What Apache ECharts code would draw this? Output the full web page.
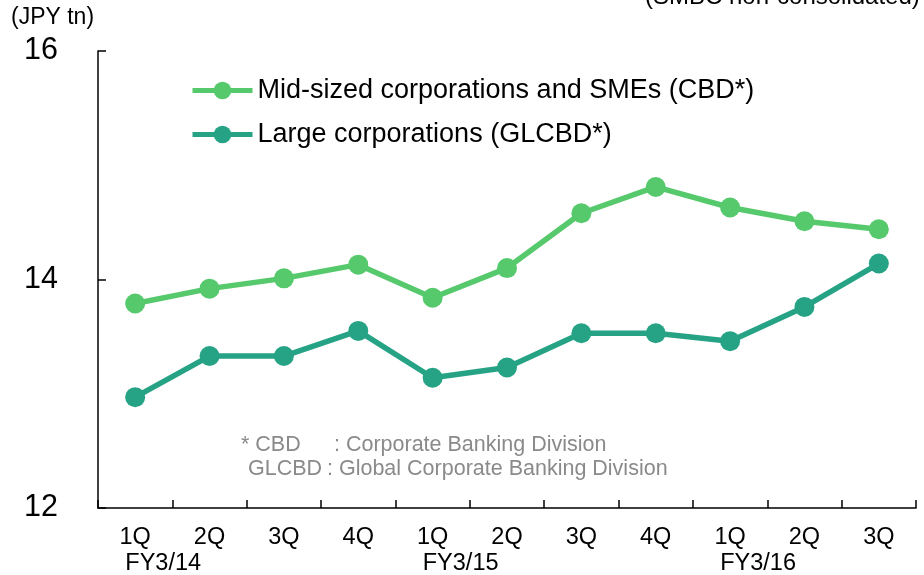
<!DOCTYPE html>
<html>
<head>
<meta charset="utf-8">
<script src="https://cdn.jsdelivr.net/npm/echarts@6/dist/echarts.min.js"></script>
<style>
html,body{margin:0;padding:0;background:#fff;}
#chart{width:924px;height:575px;}
</style>
</head>
<body>
<div id="chart"></div>
<script>
var quarters = ['1Q','2Q','3Q','4Q','1Q','2Q','3Q','4Q','1Q','2Q','3Q'];
var fiscalYears = ['FY3/14','','','','FY3/15','','','','FY3/16','',''];
var cbdValues = [13.79, 13.92, 14.01, 14.13, 13.84, 14.10, 14.58, 14.81, 14.63, 14.51, 14.44];
var glcbdValues = [12.97, 13.33, 13.33, 13.55, 13.14, 13.23, 13.53, 13.53, 13.46, 13.76, 14.14];
var seriesNames = ['Mid-sized corporations and SMEs (CBD*)', 'Large corporations (GLCBD*)'];
var yTicks = {min: 12, max: 16, interval: 2};

var FONT = 'Arial, "Liberation Sans", sans-serif';
var GREEN = '#56c96c';
var TEAL = '#26a385';
var GREY = '#8a8a8a';

var chart = echarts.init(document.getElementById('chart'), null, {renderer: 'canvas'});
chart.setOption({
  backgroundColor: '#ffffff',
  animation: false,
  textStyle: {fontFamily: FONT},
  grid: {left: 98, right: 8, top: 51, bottom: 67, containLabel: false, outerBoundsMode: 'none'},
  legend: {
    orient: 'vertical',
    left: 185,
    top: 72,
    itemWidth: 60,
    itemHeight: 22,
    itemGap: 17,
    data: seriesNames,
    lineStyle: {width: 5},
    textStyle: {fontSize: 27, color: '#000', fontFamily: FONT}
  },
  xAxis: {
    type: 'category',
    data: quarters,
    boundaryGap: true,
    axisLine: {show: true, lineStyle: {color: '#000', width: 1.5}},
    axisTick: {show: true, inside: true, length: 8, lineStyle: {color: '#000', width: 1.5}},
    axisLabel: {
      interval: 0,
      margin: 17,
      formatter: function (value, index) {
        var fy = fiscalYears[index];
        return fy ? '{q|' + value + '}\n{fy|' + fy + '}' : '{q|' + value + '}';
      },
      rich: {
        q: {fontSize: 23.5, color: '#000', fontFamily: FONT, lineHeight: 26},
        fy: {fontSize: 23.5, color: '#000', fontFamily: FONT, lineHeight: 26, padding: [0, 0, 0, 56]}
      }
    },
    splitLine: {show: false}
  },
  yAxis: {
    type: 'value',
    min: yTicks.min,
    max: yTicks.max,
    interval: yTicks.interval,
    axisLine: {show: true, lineStyle: {color: '#000', width: 1.5}},
    axisTick: {show: true, inside: true, length: 8, lineStyle: {color: '#000', width: 1.5}},
    axisLabel: {fontSize: 30.5, color: '#000', margin: 40, fontFamily: FONT},
    splitLine: {show: false}
  },
  series: [
    {
      name: seriesNames[0],
      type: 'line',
      data: cbdValues,
      symbol: 'circle',
      symbolSize: 20,
      lineStyle: {color: GREEN, width: 5.5},
      itemStyle: {color: GREEN},
      z: 3
    },
    {
      name: seriesNames[1],
      type: 'line',
      data: glcbdValues,
      symbol: 'circle',
      symbolSize: 20,
      lineStyle: {color: TEAL, width: 5.5},
      itemStyle: {color: TEAL},
      z: 4
    }
  ],
  graphic: [
    {type: 'text', x: 11, y: 18, style: {text: '(JPY tn)', fill: '#000', font: '23px ' + FONT, verticalAlign: 'middle'}},
    {type: 'text', x: 645, y: -3, style: {text: '(SMBC non-consolidated)', fill: '#000', font: '24px ' + FONT, verticalAlign: 'middle'}},
    {type: 'text', x: 241, y: 445, style: {text: '* CBD', fill: GREY, font: '21.5px ' + FONT, verticalAlign: 'middle'}},
    {type: 'text', x: 334, y: 445, style: {text: ': Corporate Banking Division', fill: GREY, font: '21.5px ' + FONT, verticalAlign: 'middle'}},
    {type: 'text', x: 248, y: 469, style: {text: 'GLCBD', fill: GREY, font: '21.5px ' + FONT, verticalAlign: 'middle'}},
    {type: 'text', x: 327, y: 469, style: {text: ': Global Corporate Banking Division', fill: GREY, font: '21.5px ' + FONT, verticalAlign: 'middle'}}
  ]
});
</script>
</body>
</html>
